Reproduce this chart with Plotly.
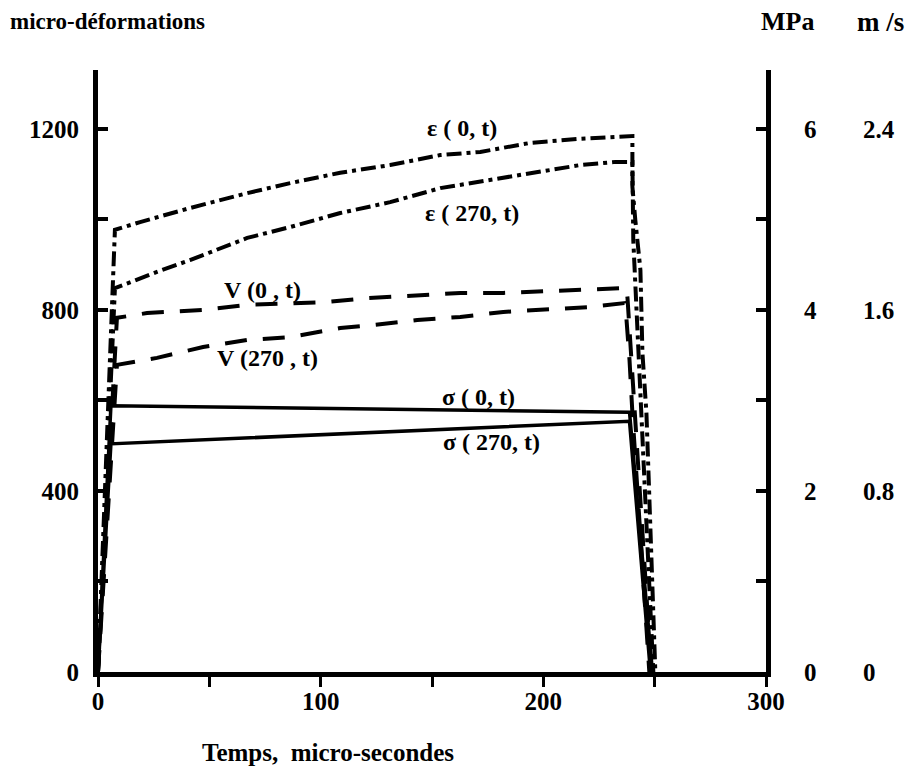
import plotly.graph_objects as go

# ---------------- data ----------------
# time in micro-seconds, micro-strain
eps0_t = [0, 7.6, 18.9, 41.3, 67, 86.3, 108.8, 131.2, 153.7, 171.7, 194.2, 216.6, 240,
          240, 241.3, 243.6, 244.5, 246.3, 250.3]
eps0_v = [0, 977, 994, 1025, 1058, 1080, 1103, 1120, 1142, 1149, 1169, 1178, 1184,
          1072, 999, 888, 705, 572, 0]

eps270_t = [0, 7.6, 26.5, 41.3, 67, 86.3, 108.8, 131.2, 153.7, 171.7, 194.2, 216.6, 232.4, 240,
            240.4, 242.2, 244, 249.4]
eps270_v = [0, 848, 884, 910, 959, 983, 1014, 1038, 1069, 1083, 1102, 1120, 1127, 1127,
            954, 756, 572, 0]

# velocities in m/s
v0_t = [0, 8.5, 22, 47.2, 67, 102.9, 120.9, 143.4, 162.7, 182, 201.8, 221.1, 237.3,
        237.8, 238.7, 241, 248.5]
v0_v = [0, 1.565, 1.586, 1.600, 1.622, 1.635, 1.652, 1.666, 1.675, 1.675, 1.683, 1.692, 1.697,
        1.652, 1.511, 1.144, 0]

v270_t = [0, 8.5, 26.5, 47.2, 67, 86.3, 108.8, 123.6, 143.4, 162.7, 182, 201.8, 221.1, 236.4,
          237.3, 238.7, 240, 247.6]
v270_v = [0, 1.357, 1.388, 1.436, 1.467, 1.480, 1.520, 1.533, 1.555, 1.569, 1.591, 1.604, 1.613, 1.630,
          1.564, 1.379, 1.144, 0]

# stresses in MPa
s0_t = [0, 5.8, 238.7, 249]
s0_v = [0, 2.94, 2.87, 0]

s270_t = [0, 5.8, 238.7, 248.1]
s270_v = [0, 2.52, 2.77, 0]

# axis ticks
x_ticks = [0, 100, 200, 300]
eps_ticks = [0, 400, 800, 1200]
mpa_ticks = [0, 2, 4, 6]
ms_ticks = [0, 0.8, 1.6, 2.4]
ms_labels = ["0", "0.8", "1.6", "2.4"]

# curve labels: (text, t, micro-strain level)
curve_labels = [
    ("ε ( 0, t)", 163.5, 1202),
    ("ε ( 270, t)", 168, 1014),
    ("V (0 , t)", 73.7, 844),
    ("V (270 , t)", 76.3, 694),
    ("σ ( 0, t)", 171, 608),
    ("σ ( 270, t)", 176.5, 508),
]

# ---------------- figure ----------------
FONT = "Liberation Serif"
Y_TOP = 1330  # micro-strain at the top of the axes
OFF = 8       # page body margin

fig = go.Figure()
dashdot = "15px,5px,4px,5px"
dash = "22px,16px"

fig.add_trace(go.Scatter(x=eps0_t, y=eps0_v, mode="lines", yaxis="y",
                         line=dict(color="black", width=4, dash=dashdot)))
fig.add_trace(go.Scatter(x=eps270_t, y=eps270_v, mode="lines", yaxis="y",
                         line=dict(color="black", width=4, dash=dashdot)))
fig.add_trace(go.Scatter(x=v0_t, y=v0_v, mode="lines", yaxis="y3",
                         line=dict(color="black", width=4, dash=dash)))
fig.add_trace(go.Scatter(x=v270_t, y=v270_v, mode="lines", yaxis="y3",
                         line=dict(color="black", width=4, dash=dash)))
fig.add_trace(go.Scatter(x=s0_t, y=s0_v, mode="lines", yaxis="y2",
                         line=dict(color="black", width=3.5)))
fig.add_trace(go.Scatter(x=s270_t, y=s270_v, mode="lines", yaxis="y2",
                         line=dict(color="black", width=3.5)))
# invisible carrier so the label-only x axis is drawn
fig.add_trace(go.Scatter(x=[x_ticks[0]], y=[0], xaxis="x2", yaxis="y", mode="markers",
                         marker=dict(opacity=0), hoverinfo="skip"))

for txt, tx, ty in curve_labels:
    fig.add_annotation(x=tx, y=ty, xref="x", yref="y", text=txt, showarrow=False,
                       font=dict(family=FONT, size=24, color="black", weight="bold"))

W, H = 921 - OFF, 772 - OFF
ML, MR, MT, MB = 98 - OFF, 10, 70 - OFF, 100
plot_w = W - ML - MR
plot_h = H - MT - MB
x_end = (766 - OFF - ML) / plot_w
ms_pos = (858 - OFF - ML) / plot_w

tickfont = dict(family=FONT, size=25, color="black", weight="bold")

fig.update_layout(
    width=W, height=H,
    margin=dict(l=ML, r=MR, t=MT, b=MB, autoexpand=False),
    paper_bgcolor="white", plot_bgcolor="white",
    showlegend=False,
    xaxis=dict(domain=[0, x_end], range=[0, 300], tickvals=x_ticks,
               showgrid=False, zeroline=False, automargin=False,
               showline=True, linecolor="black", linewidth=5,
               ticks="outside", ticklen=10, tickwidth=3, tickcolor="black",
               minor=dict(dtick=50, ticks="outside", ticklen=10, tickwidth=3, tickcolor="black"),
               showticklabels=False),
    xaxis2=dict(domain=[0, x_end], range=[0, 300], tickvals=x_ticks, overlaying="x",
                anchor="y", side="bottom", showgrid=False, zeroline=False, automargin=False,
                showline=False, ticks="", tickfont=tickfont, ticklabelstandoff=12),
    yaxis=dict(range=[0, Y_TOP], tickvals=eps_ticks, showgrid=False, zeroline=False,
               automargin=False,
               showline=True, linecolor="black", linewidth=5,
               ticks="inside", ticklen=10, tickwidth=4, tickcolor="black",
               minor=dict(dtick=200, ticks="inside", ticklen=10, tickwidth=4, tickcolor="black"),
               tickfont=tickfont, ticklabelstandoff=9),
    yaxis2=dict(range=[0, Y_TOP / 200], tickvals=mpa_ticks, overlaying="y", side="right",
                anchor="x", showgrid=False, zeroline=False, automargin=False,
                showline=True, linecolor="black", linewidth=5,
                ticks="inside", ticklen=10, tickwidth=4, tickcolor="black",
                minor=dict(dtick=1, ticks="inside", ticklen=10, tickwidth=4, tickcolor="black"),
                tickfont=tickfont, ticklabelstandoff=28),
    yaxis3=dict(range=[0, Y_TOP / 500], tickvals=ms_ticks, ticktext=ms_labels,
                overlaying="y", side="right", anchor="free", position=ms_pos,
                showgrid=False, zeroline=False, showline=False, ticks="", automargin=False,
                tickfont=tickfont, ticklabelstandoff=4),
)


def page_to_paper(px, py):
    return (px - OFF - ML) / plot_w, (H - MB - (py - OFF)) / plot_h


captions = [
    ("micro-déformations", 8, 22, "left", 23),
    ("MPa", 787, 22, "center", 26),
    ("m /s", 880, 22, "center", 27),
    ("Temps,  micro-secondes", 328, 752, "center", 25),
]
for txt, px, py, anc, sz in captions:
    ax_, ay_ = page_to_paper(px, py)
    fig.add_annotation(x=ax_, y=ay_, xref="paper", yref="paper", text=txt,
                       showarrow=False, xanchor=anc, yanchor="middle",
                       font=dict(family=FONT, size=sz, color="black", weight="bold"))

fig.write_html("out.html")
